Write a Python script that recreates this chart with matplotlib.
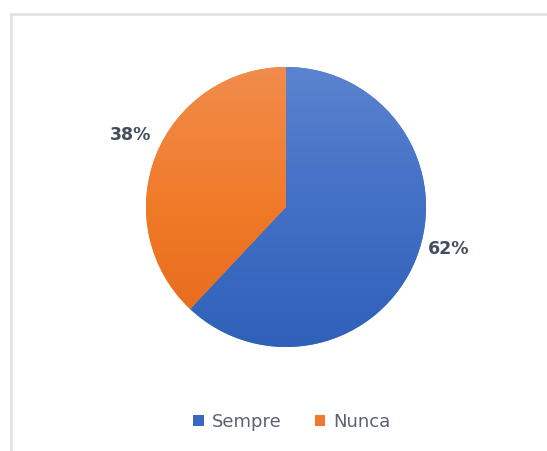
import numpy as np
import matplotlib
matplotlib.use("Agg")
import matplotlib.pyplot as plt
from matplotlib.colors import LinearSegmentedColormap
from matplotlib.patches import Patch
from matplotlib.lines import Line2D

categories = ["Sempre", "Nunca"]
values = [62, 38]
labels = ["62%", "38%"]

# styles
grad_colors = [("#5b83cf", "#4270c6", "#2f61b8"), ("#f28c4c", "#f07a28", "#e4691b")]
legend_colors = ["#3a67c0", "#ee7a2f"]
label_pos = [(1.165, -0.30), (-1.107, 0.514)]

W, H = 547, 451
fig = plt.figure(figsize=(W / 100, H / 100), dpi=100)
fig.patch.set_facecolor("white")

# chart-area border (top and left edges visible)
fig.add_artist(Line2D([11 / W, 11 / W], [0, 1 - 14 / H], transform=fig.transFigure,
                      color="#dfe3e9", lw=2.0))
fig.add_artist(Line2D([11 / W, 1], [1 - 14 / H, 1 - 14 / H], transform=fig.transFigure,
                      color="#dfe3e9", lw=2.0))

cx, cy, r = 286, 207, 140
ax = fig.add_axes([(cx - r) / W, 1 - (cy + r) / H, 2 * r / W, 2 * r / H])
ax.set_axis_off()

wedges, _ = ax.pie(values, startangle=90, counterclock=False, radius=1,
                   colors=[c[1] for c in grad_colors],
                   wedgeprops=dict(linewidth=0))

grad = np.linspace(0, 1, 256).reshape(-1, 1)
for w, cols in zip(wedges, grad_colors):
    cmap = LinearSegmentedColormap.from_list("g", list(cols))
    im = ax.imshow(grad, extent=[-1, 1, -1, 1], origin="upper", cmap=cmap,
                   aspect="auto", zorder=w.get_zorder() + 0.1, interpolation="bilinear")
    im.set_clip_path(w)

ax.set_xlim(-1, 1)
ax.set_ylim(-1, 1)
ax.set_aspect("equal")

for lab, (x, y) in zip(labels, label_pos):
    ax.text(x, y, lab, ha="center", va="center", fontsize=12.5, fontweight="bold",
            color="#444e5e", clip_on=False)

handles = [Patch(facecolor=c, edgecolor="none") for c in legend_colors]
leg = fig.legend(handles, categories, loc="center", bbox_to_anchor=(292 / W, 1 - 422 / H),
                 ncol=2, frameon=False, fontsize=13, handlelength=0.6, handleheight=0.6,
                 handletextpad=0.45, columnspacing=1.8)
for t in leg.get_texts():
    t.set_color("#5a6272")

fig.savefig("out.png", dpi=100, facecolor="white")
